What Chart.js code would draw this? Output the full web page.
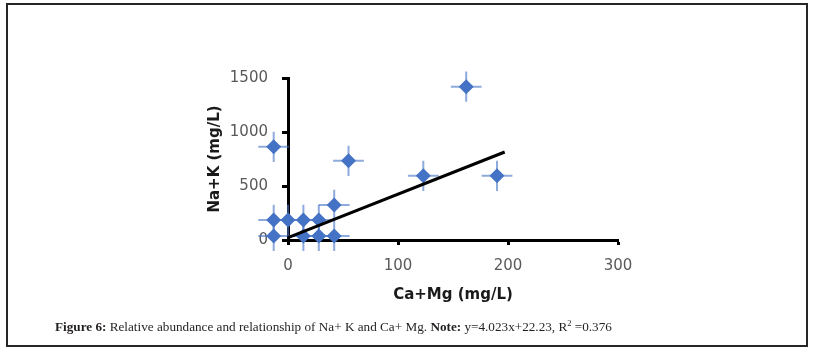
<!DOCTYPE html>
<html>
<head>
<meta charset="utf-8">
<script src="https://cdn.jsdelivr.net/npm/chart.js@4.4.1/dist/chart.umd.min.js"></script>
<style>
  html, body { margin: 0; padding: 0; background: #fff; }
  #wrap { position: relative; width: 816px; height: 354px; overflow: hidden; }
  #c { position: absolute; left: 0; top: 0; }
  #frame { position: absolute; left: 6px; top: 3px; width: 802px; height: 344px; box-sizing: border-box; border: 2px solid #262626; pointer-events: none; }
  #cap { position: absolute; left: 55px; top: 319px; font-family: "Liberation Serif", serif; font-size: 13.2px; color: #231f20; white-space: nowrap; }
  #cap b { font-weight: bold; }
  #cap sup { font-size: 8.5px; vertical-align: 5px; line-height: 0; }
</style>
</head>
<body>
<div id="wrap">
  <canvas id="c" width="816" height="354"></canvas>
  <div id="frame"></div>
  <div id="cap"><b>Figure 6:</b> Relative abundance and relationship of Na+ K and Ca+ Mg. <b>Note:</b> y=4.023x+22.23, R<sup>2</sup> =0.376</div>
</div>
<script>
// Data
const caMg = [-13, 0, 14, 28, -13, 14, 28, 42, 42, 55, 123, 162, 190, -13];
const naK  = [186, 186, 186, 186, 37, 37, 37, 37, 325, 733, 594, 1420, 594, 863];
const xErr = [14, 14, 14, 14, 14, 14, 14, 14, 14, 14, 14, 14, 14, 14];
const yErr = [140, 140, 140, 140, 140, 140, 140, 140, 140, 140, 140, 140, 140, 140];
const trendX = [0, 197];
const trendY = [22, 815];
const xTicks = [0, 100, 200, 300];
const yTicks = [0, 500, 1000, 1500];
const xTitle = 'Ca+Mg (mg/L)';
const yTitle = 'Na+K (mg/L)';

const points = caMg.map((x, i) => ({ x: x, y: naK[i] }));
const trend = trendX.map((x, i) => ({ x: x, y: trendY[i] }));

const errorBars = {
  id: 'errorBars',
  beforeDatasetsDraw(chart) {
    const xs = chart.scales.x, ys = chart.scales.y, ctx = chart.ctx;
    ctx.save();
    ctx.strokeStyle = 'rgba(68,114,196,0.6)';
    ctx.lineWidth = 2;
    caMg.forEach((xv, i) => {
      const px = xs.getPixelForValue(xv), py = ys.getPixelForValue(naK[i]);
      const x1 = xs.getPixelForValue(xv - xErr[i]), x2 = xs.getPixelForValue(xv + xErr[i]);
      const y1 = ys.getPixelForValue(naK[i] - yErr[i]), y2 = ys.getPixelForValue(naK[i] + yErr[i]);
      ctx.beginPath();
      ctx.moveTo(x1, py); ctx.lineTo(x2, py);
      ctx.moveTo(px, y1); ctx.lineTo(px, y2);
      ctx.stroke();
    });
    ctx.restore();
  }
};

// let markers that sit just left of the y axis be drawn (the reference shows them)
const widenArea = {
  id: 'widenArea',
  beforeDatasetsDraw(chart) {
    chart._savedArea = Object.assign({}, chart.chartArea);
    chart.chartArea.left -= 40;
    chart.chartArea.bottom += 20;
  },
  afterDatasetsDraw(chart) {
    Object.assign(chart.chartArea, chart._savedArea);
  }
};

const axisTitles = {
  id: 'axisTitles',
  afterDraw(chart) {
    const ctx = chart.ctx, a = chart.chartArea;
    ctx.save();
    ctx.fillStyle = '#1a1a1a';
    ctx.font = 'bold 15px "DejaVu Sans"';
    ctx.textAlign = 'center';
    ctx.textBaseline = 'middle';
    ctx.fillText(xTitle, (a.left + a.right) / 2, 295);
    ctx.translate(215, (a.top + a.bottom) / 2);
    ctx.rotate(-Math.PI / 2);
    ctx.fillText(yTitle, 0, 0);
    ctx.restore();
  }
};

new Chart(document.getElementById('c'), {
  type: 'scatter',
  data: {
    datasets: [
      {
        type: 'line',
        data: trend,
        borderColor: '#000',
        borderWidth: 3,
        pointRadius: 0,
        fill: false,
        order: 0,
        clip: false
      },
      {
        data: points,
        pointStyle: 'rectRot',
        pointRadius: 7.5,
        pointHoverRadius: 7.5,
        backgroundColor: '#4472C4',
        borderColor: '#4472C4',
        borderWidth: 0,
        order: 1,
        clip: false
      }
    ]
  },
  options: {
    responsive: false,
    devicePixelRatio: 1,
    animation: false,
    events: [],
    layout: { padding: { left: 0, top: 78, right: 198, bottom: 0 } },
    plugins: { legend: { display: false }, tooltip: { enabled: false } },
    scales: {
      x: {
        type: 'linear',
        min: 0, max: 300,
        afterFit(s) { s.height = 114; },
        afterBuildTicks(s) { s.ticks = xTicks.map(v => ({ value: v })); },
        border: { display: true, color: '#000', width: 3 },
        grid: { drawOnChartArea: false, drawTicks: true, tickLength: 5, tickWidth: 3, tickColor: '#000' },
        ticks: { color: '#595959', font: { family: 'DejaVu Sans', size: 15 }, padding: 12, callback: v => String(v) }
      },
      y: {
        type: 'linear',
        min: 0, max: 1500,
        afterFit(s) { s.width = 288; },
        afterBuildTicks(s) { s.ticks = yTicks.map(v => ({ value: v })); },
        border: { display: true, color: '#000', width: 3 },
        grid: { drawOnChartArea: false, drawTicks: true, tickLength: 6, tickWidth: 3, tickColor: '#000' },
        ticks: { color: '#595959', font: { family: 'DejaVu Sans', size: 15 }, padding: 14, callback: v => String(v) }
      }
    }
  },
  plugins: [widenArea, errorBars, axisTitles]
});
</script>
</body>
</html>
